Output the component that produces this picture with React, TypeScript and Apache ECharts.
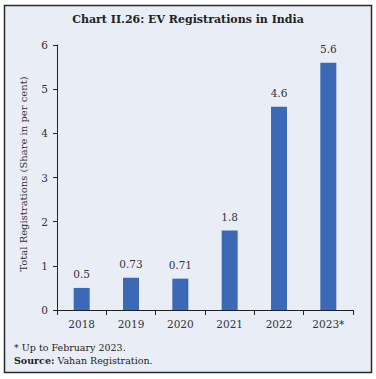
import React, { useEffect, useRef } from "react";
import * as echarts from "echarts";

const categories = ["2018", "2019", "2020", "2021", "2022", "2023*"];
const values = [0.5, 0.73, 0.71, 1.8, 4.6, 5.6];
const valueLabels = ["0.5", "0.73", "0.71", "1.8", "4.6", "5.6"];
const yTicks = [0, 1, 2, 3, 4, 5, 6];

const FONT = "DejaVu Serif";

export default function App() {
  const ref = useRef<HTMLDivElement>(null);
  useEffect(() => {
    document.body.style.margin = "0";
    const chart = echarts.init(ref.current!, null, { renderer: "svg" });
    chart.setOption({
      animation: false,
      backgroundColor: "#ffffff",
      graphic: [
        {
          type: "rect",
          z: -10,
          shape: { x: 4.5, y: 5.5, width: 367, height: 367 },
          style: { fill: "#e9eef6", stroke: "#2a2a2a", lineWidth: 1.5 },
          silent: true,
        },
        {
          type: "text",
          left: "center",
          top: 14,
          style: {
            text: "Chart II.26: EV Registrations in India",
            font: `bold 11px '${FONT}'`,
            fill: "#222",
          },
        },
        {
          type: "text",
          x: 23,
          y: 174,
          rotation: Math.PI / 2,
          style: {
            text: "Total Registrations (Share in per cent)",
            font: `10px '${FONT}'`,
            fill: "#333",
            align: "center",
            verticalAlign: "middle",
          },
        },
        {
          type: "text",
          left: 14,
          top: 342,
          style: { text: "* Up to February 2023.", font: `9.5px '${FONT}'`, fill: "#222" },
        },
        {
          type: "text",
          left: 14,
          top: 355,
          style: {
            text: "{b|Source:} Vahan Registration.",
            font: `9.5px '${FONT}'`,
            fill: "#222",
            rich: { b: { fontWeight: "bold", fontFamily: FONT, fontSize: 9.5, fill: "#222" } },
          },
        },
      ],
      grid: { left: 57, right: 23, top: 45, bottom: 69 },
      xAxis: {
        type: "category",
        data: categories,
        axisLine: { lineStyle: { color: "#222", width: 1 } },
        axisTick: { show: true, length: 5, lineStyle: { color: "#222" } },
        axisLabel: { fontFamily: FONT, fontSize: 10.5, color: "#333", margin: 8 },
      },
      yAxis: {
        type: "value",
        min: 0,
        max: 6,
        interval: 1,
        axisLine: { show: true, lineStyle: { color: "#222", width: 1 } },
        axisTick: { show: true, length: 4, lineStyle: { color: "#222" } },
        axisLabel: {
          fontFamily: FONT,
          fontSize: 10.5,
          color: "#333",
          margin: 9,
          formatter: (v: number) => (yTicks.includes(v) ? String(v) : ""),
        },
        splitLine: { show: false },
      },
      series: [
        {
          type: "bar",
          data: values,
          barWidth: 16,
          itemStyle: { color: "#3b69b5" },
          label: {
            show: true,
            position: "top",
            distance: 8,
            fontFamily: FONT,
            fontSize: 10.5,
            color: "#333",
            formatter: (p: any) => valueLabels[p.dataIndex],
          },
        },
      ],
    });
    return () => chart.dispose();
  }, []);
  return <div ref={ref} style={{ position: "fixed", left: 0, top: 0, width: 376, height: 379 }} />;
}
